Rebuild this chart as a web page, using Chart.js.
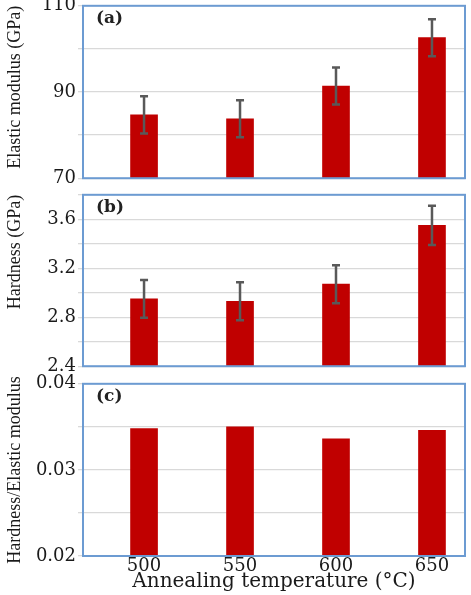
<!DOCTYPE html>
<html>
<head>
<meta charset="utf-8">
<script src="https://cdn.jsdelivr.net/npm/chart.js@4.4.1/dist/chart.umd.min.js"></script>
<style>
  html, body { margin: 0; padding: 0; background: #fff; overflow: hidden; }
  #wrap { position: relative; width: 471px; height: 595px; }
  canvas { position: absolute; left: 0; }
</style>
</head>
<body>
<div id="wrap">
  <canvas id="chartA" width="471" height="198" style="top:-7px"></canvas>
  <canvas id="chartB" width="471" height="197" style="top:182px"></canvas>
  <canvas id="chartC" width="471" height="224" style="top:371px"></canvas>
</div>
<script>
// temperatures (x categories)
const temperatures = [500, 550, 600, 650];

// (a) elastic modulus
const modulus = [84.7, 83.8, 91.4, 102.6];
const modulusErr = [4.3, 4.3, 4.3, 4.3];

// (b) hardness
const hardness = [2.95, 2.93, 3.07, 3.55];
const hardnessErr = [0.155, 0.155, 0.155, 0.16];

// (c) hardness / elastic modulus
const ratio = [0.0348, 0.0350, 0.0336, 0.0346];

const barColor = "#C00000";
const frameColor = "#6C9BD2";
const gridColor = "#D9D9D9";
const textColor = "#1a1a1a";

// draws error bars with the chart's own scales
function errorBarsPlugin(errs) {
  return {
    id: "errorBars",
    afterDatasetsDraw(chart) {
      const ctx = chart.ctx;
      const xs = chart.scales.x;
      const ys = chart.scales.y;
      const vals = chart.data.datasets[0].data;
      ctx.save();
      ctx.strokeStyle = "#595959";
      ctx.lineWidth = 2.5;
      for (var i = 0; i < vals.length; i++) {
        const x = xs.getPixelForValue(temperatures[i]);
        const yTop = ys.getPixelForValue(vals[i] + errs[i]);
        const yBot = ys.getPixelForValue(vals[i] - errs[i]);
        ctx.beginPath();
        ctx.moveTo(x, yTop);
        ctx.lineTo(x, yBot);
        ctx.moveTo(x - 4, yTop);
        ctx.lineTo(x + 4, yTop);
        ctx.moveTo(x - 4, yBot);
        ctx.lineTo(x + 4, yBot);
        ctx.stroke();
      }
      ctx.restore();
    },
  };
}

// blue frame around the plot area + panel letter
function framePlugin(letter) {
  return {
    id: "frame",
    afterDraw(chart) {
      const a = chart.chartArea;
      const ctx = chart.ctx;
      ctx.save();
      ctx.strokeStyle = frameColor;
      ctx.lineWidth = 2;
      ctx.strokeRect(a.left, a.top, a.right - a.left, a.bottom - a.top);
      ctx.fillStyle = "#222";
      ctx.font = "bold 17px 'DejaVu Serif'";
      ctx.textBaseline = "middle";
      ctx.fillText(letter, a.left + 13, a.top + 13);
      ctx.restore();
    },
  };
}

function makePanel(canvasId, values, errs, letter, yTitle, titleAlign, yMin, yMax, yStep, labelFn, showX) {
  const plugins = [framePlugin(letter)];
  if (errs) plugins.push(errorBarsPlugin(errs));

  const configuration = {
    type: "bar",
    data: {
      labels: temperatures,
      datasets: [
        {
          data: values,
          backgroundColor: barColor,
          borderWidth: 0,
          barThickness: 27,
        },
      ],
    },
    options: {
      responsive: false,
      animation: false,
      layout: { padding: { top: 12, bottom: showX ? 0 : 12, left: 0, right: 6 } },
      plugins: { legend: { display: false }, tooltip: { enabled: false } },
      scales: {
        x: {
          type: "linear",
          display: showX,
          offset: false,
          min: 468.2,
          max: 667.2,
          afterBuildTicks: (scale) => {
            scale.ticks = temperatures.map((t) => ({ value: t }));
          },
          afterFit: (scale) => {
            if (showX) scale.height = 39;
          },
          grid: { display: false, drawTicks: false },
          border: { display: false },
          ticks: {
            padding: 0,
            color: textColor,
            font: { family: "DejaVu Serif", size: 18 },
          },
          title: {
            display: showX,
            text: "Annealing temperature (°C)",
            color: textColor,
            font: { family: "DejaVu Serif", size: 20 },
            padding: { top: 0, bottom: 1 },
          },
        },
        y: {
          min: yMin,
          max: yMax,
          afterFit: (scale) => {
            scale.width = 83;
          },
          grid: { color: gridColor, lineWidth: 1.3, tickLength: 5 },
          border: { display: false },
          ticks: {
            stepSize: yStep,
            padding: 2,
            color: textColor,
            font: { family: "DejaVu Serif", size: 18 },
            callback: labelFn,
          },
          title: {
            display: true,
            text: yTitle,
            align: titleAlign,
            color: textColor,
            font: { family: "Liberation Serif", size: 18 },
            padding: { top: 4, bottom: 0 },
          },
        },
      },
    },
    plugins: plugins,
  };
  return new Chart(document.getElementById(canvasId), configuration);
}

makePanel("chartA", modulus, modulusErr, "(a)", "Elastic modulus (GPa)", "end", 70, 110, 5,
  (v) => (Math.round(v - 70) % 20 === 0 ? String(Math.round(v)) : ""), false);

makePanel("chartB", hardness, hardnessErr, "(b)", "Hardness (GPa)", "end", 2.4, 3.8, 0.2,
  (v) => (Math.round(v * 10) % 4 === 0 ? v.toFixed(1) : ""), false);

makePanel("chartC", ratio, null, "(c)", "Hardness/Elastic modulus", "center", 0.02, 0.04, 0.005,
  (v) => (Math.round(v * 1000) % 10 === 0 ? v.toFixed(2) : ""), true);
</script>
</body>
</html>
